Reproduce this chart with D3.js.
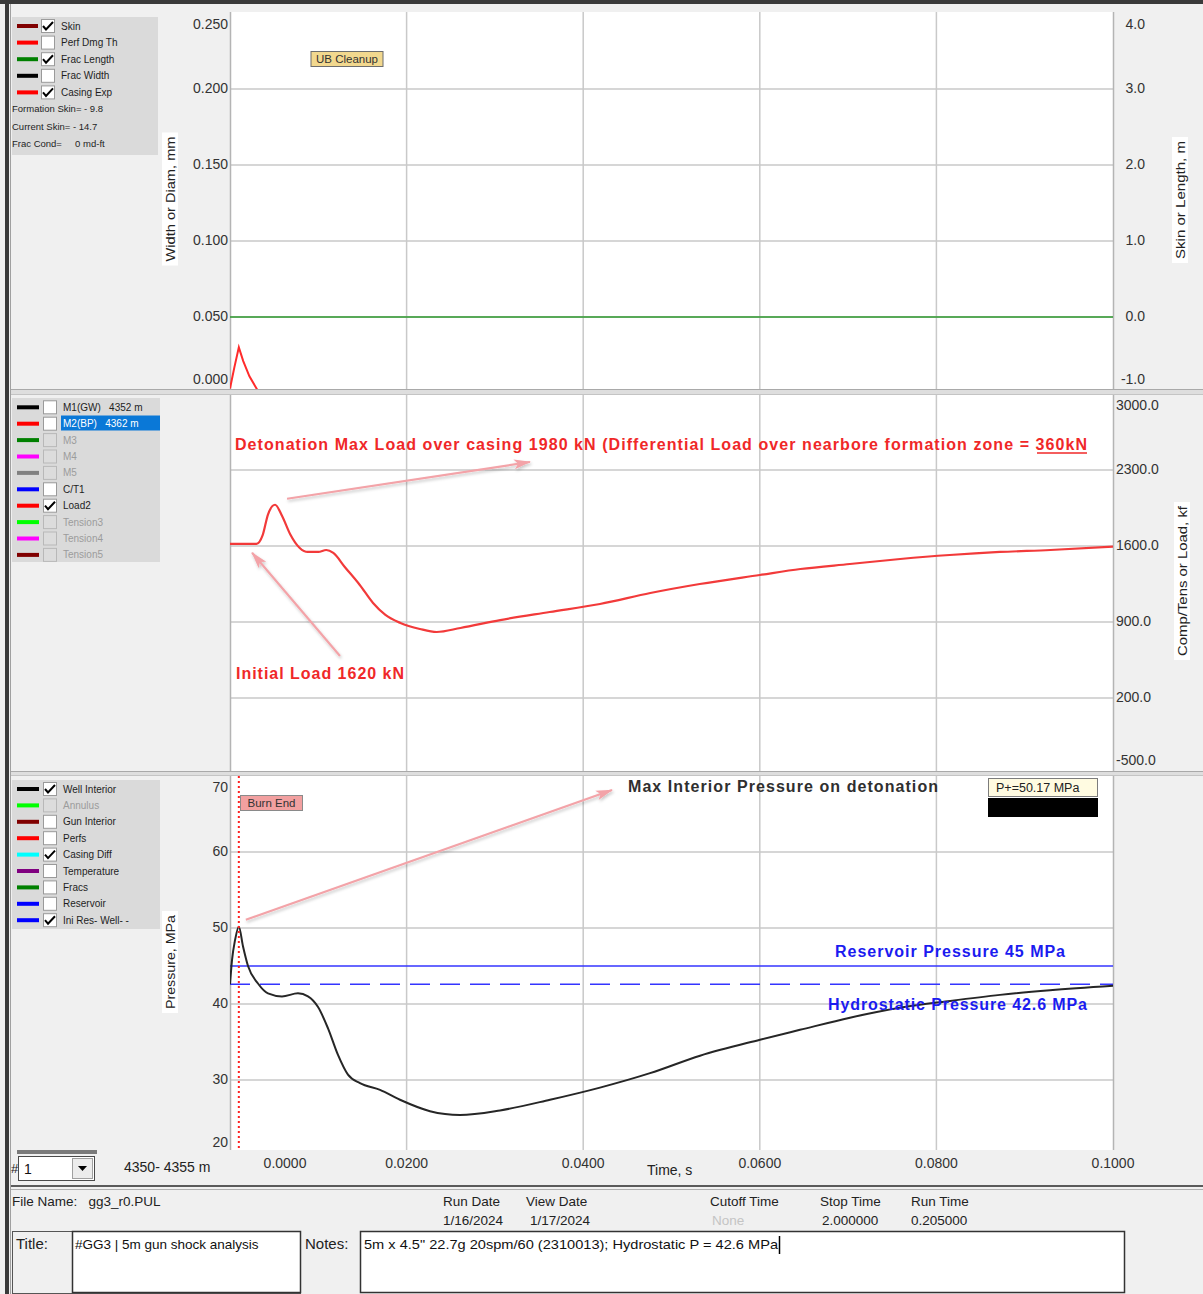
<!DOCTYPE html>
<html>
<head>
<meta charset="utf-8">
<script src="https://cdn.jsdelivr.net/npm/d3@7"></script>
<style>
  body { margin: 0; background: #f0f0f0; }
  svg { display: block; font-family: "Liberation Sans", Arial, sans-serif; }
</style>
</head>
<body>
<svg id="chart" width="1203" height="1294"></svg>
<script>
// ---- axis ticks ----
const timeTicks = [0, 0.02, 0.04, 0.06, 0.08, 0.1];
const widthTicks = [0, 0.05, 0.1, 0.15, 0.2, 0.25];
const skinTicks = [-1, 0, 1, 2, 3, 4];
const loadTicks = [-500, 200, 900, 1600, 2300, 3000];
const pressureTicks = [20, 30, 40, 50, 60, 70];

// ---- panel 1: casing expansion (mm) and frac length (m) ----
const casingExpTime = [0, 0.0005, 0.001, 0.0015, 0.0022, 0.0031];
const casingExpMm = [0.003, 0.017, 0.030, 0.021, 0.011, 0.002];
const fracLengthM = 0.0;

// ---- panel 2: Load2 (kN) ----
const initialLoad = 1620;
const maxLoad = 1980;
const loadTime = [0, 0.0030, 0.0037, 0.0043, 0.0051, 0.0059, 0.0068, 0.0079, 0.0088, 0.0100,
  0.0109, 0.0117, 0.0130, 0.0147, 0.0162, 0.0176, 0.0193, 0.0215, 0.0234, 0.0261, 0.0306,
  0.0362, 0.0419, 0.0476, 0.0532, 0.0600, 0.0646, 0.0702, 0.0759, 0.0815, 0.0872, 0.0929, 0.1000];
const loadKN = [initialLoad, 1620, 1700, 1890, maxLoad, 1876, 1711, 1582, 1545, 1545,
  1563, 1536, 1407, 1241, 1075, 965, 891, 836, 808, 845, 918,
  992, 1066, 1167, 1250, 1333, 1388, 1434, 1480, 1517, 1545, 1563, 1595];

// ---- panel 3: well interior pressure (MPa) ----
const reservoirP = 45;
const hydrostaticP = 42.6;
const maxPressure = 50.17;
const burnEndTime = 0.001;
const pressTime = [0, 0.00023, 0.00057, 0.0010, 0.00147, 0.00204, 0.00317, 0.0043, 0.00589,
  0.0077, 0.00883, 0.00997, 0.0111, 0.01223, 0.01336, 0.01472, 0.01699, 0.01925, 0.02265,
  0.02605, 0.03058, 0.03624, 0.0419, 0.04757, 0.05323, 0.06002, 0.06455, 0.07021, 0.07588,
  0.08154, 0.0872, 0.09287, 0.1000];
const pressMPa = [hydrostaticP, 45.8, 48.4, maxPressure, 47.6, 45.0, 42.7, 41.4, 41.0,
  41.4, 41.0, 39.6, 36.8, 33.3, 30.7, 29.6, 28.7, 27.4, 25.9,
  25.4, 26.0, 27.4, 29.0, 30.9, 33.2, 35.3, 36.6, 38.2, 39.5,
  40.4, 41.2, 41.8, 42.4];

// ---- legends ----
const legend1Names = ["Skin", "Perf Dmg Th", "Frac Length", "Frac Width", "Casing Exp"];
const legend1Colors = ["#800000", "#ff0000", "#008000", "#000000", "#ff0000"];
const legend1Checked = [true, false, true, false, true];
const legend1Enabled = [true, true, true, true, true];
const legend1Info = ["Formation Skin= - 9.8", "Current Skin= - 14.7", "Frac Cond=     0 md-ft"];

const legend2Names = ["M1(GW)   4352 m", "M2(BP)   4362 m", "M3", "M4", "M5", "C/T1", "Load2", "Tension3", "Tension4", "Tension5"];
const legend2Colors = ["#000000", "#ff0000", "#008000", "#ff00ff", "#808080", "#0000ff", "#ff0000", "#00ff00", "#ff00ff", "#800000"];
const legend2Checked = [false, false, false, false, false, false, true, false, false, false];
const legend2Enabled = [true, true, false, false, false, true, true, false, false, false];

const legend3Names = ["Well Interior", "Annulus", "Gun Interior", "Perfs", "Casing Diff", "Temperature", "Fracs", "Reservoir", "Ini Res- Well- -"];
const legend3Colors = ["#000000", "#00ff00", "#800000", "#ff0000", "#00ffff", "#800080", "#008000", "#0000ff", "#0000ff"];
const legend3Checked = [true, false, false, false, true, false, false, false, true];
const legend3Enabled = [true, false, true, true, true, true, true, true, true];

// ---- layout ----
const svg = d3.select("#chart");
const X0 = 230, X1 = 1113;
const PH = 380;
const x = d3.scaleLinear().domain([0, 0.1]).range([X0, X1]);
const yWidth = d3.scaleLinear().domain([0, 0.25]).range([13 + PH, 13]);
const ySkin = d3.scaleLinear().domain([-1, 4]).range([13 + PH, 13]);
const yLoad = d3.scaleLinear().domain([-500, 3000]).range([394 + PH, 394]);
const yPress = d3.scaleLinear().domain([20, 70]).range([776 + PH, 776]);
const vis = [[12, 389], [395, 771], [776, 1150]];

// plain hyphen for negative tick values
const fmt = spec => { const f = d3.format(spec); return v => f(v).replace("\u2212", "-"); };

const defs = svg.append("defs");
vis.forEach((v, i) => {
  defs.append("clipPath").attr("id", "clip" + i)
    .append("rect").attr("x", X0).attr("y", v[0]).attr("width", X1 - X0).attr("height", v[1] - v[0]);
});
defs.append("marker").attr("id", "arrowHead")
  .attr("markerUnits", "userSpaceOnUse").attr("markerWidth", 18).attr("markerHeight", 12)
  .attr("refX", 16).attr("refY", 6).attr("orient", "auto")
  .append("path").attr("d", "M0,1 L17,6 L0,11 L4,6 Z").attr("fill", "#f3a3a8");
const shadow = defs.append("filter").attr("id", "shadow").attr("x", "-20%").attr("y", "-20%").attr("width", "140%").attr("height", "140%");
shadow.append("feDropShadow").attr("dx", 1).attr("dy", 2).attr("stdDeviation", 1.5)
  .attr("flood-color", "#000").attr("flood-opacity", 0.22);

// background and frame
svg.append("rect").attr("width", 1203).attr("height", 1294).attr("fill", "#f0f0f0");
svg.append("rect").attr("x", 0).attr("y", 0).attr("width", 1203).attr("height", 4).attr("fill", "#3a3a3a");
svg.append("rect").attr("x", 5).attr("y", 0).attr("width", 4).attr("height", 1294).attr("fill", "#3a3a3a");
svg.append("line").attr("x1", 10.5).attr("x2", 10.5).attr("y1", 4).attr("y2", 1294).attr("stroke", "#a0a0a0");

// plot backgrounds
vis.forEach(v => {
  svg.append("rect").attr("x", X0).attr("y", v[0]).attr("width", X1 - X0).attr("height", v[1] - v[0]).attr("fill", "#ffffff");
});
// separators between panels
[[389, 395], [771, 776]].forEach(s => {
  svg.append("rect").attr("x", 11).attr("y", s[0]).attr("width", 1192).attr("height", s[1] - s[0]).attr("fill", "#dedede");
  svg.append("line").attr("x1", 11).attr("x2", 1203).attr("y1", s[0] + 0.5).attr("y2", s[0] + 0.5).attr("stroke", "#a9a9a9");
  svg.append("line").attr("x1", 11).attr("x2", 1203).attr("y1", s[1] - 0.5).attr("y2", s[1] - 0.5).attr("stroke", "#c4c4c4");
});

// gridlines
const gridColor = "#c9c9c9";
function hGrid(scale, ticks) {
  svg.append("g").selectAll("line").data(ticks.slice(1, -1)).join("line")
    .attr("x1", X0).attr("x2", X1).attr("y1", d => scale(d)).attr("y2", d => scale(d))
    .attr("stroke", gridColor).attr("stroke-width", 1.5);
}
hGrid(yWidth, widthTicks);
hGrid(yLoad, loadTicks);
hGrid(yPress, pressureTicks);
vis.forEach(v => {
  svg.append("g").selectAll("line").data(timeTicks.slice(1, -1)).join("line")
    .attr("x1", d => x(d)).attr("x2", d => x(d)).attr("y1", v[0]).attr("y2", v[1])
    .attr("stroke", gridColor).attr("stroke-width", 1.5);
});
// plot borders
[X0, X1].forEach(px => {
  vis.forEach(v => {
    svg.append("line").attr("x1", px + 0.5).attr("x2", px + 0.5).attr("y1", v[0]).attr("y2", v[1])
      .attr("stroke", "#b4b4b4").attr("stroke-width", 1.5);
  });
});

// ---- panel 1 data ----
const p1 = svg.append("g").attr("clip-path", "url(#clip0)");
p1.append("line").attr("x1", X0).attr("x2", X1).attr("y1", ySkin(fracLengthM)).attr("y2", ySkin(fracLengthM))
  .attr("stroke", "#2e9a2e").attr("stroke-width", 1.5);
p1.append("path").datum(casingExpTime.map((t, i) => [t, casingExpMm[i]]))
  .attr("d", d3.line().x(d => x(d[0])).y(d => yWidth(d[1])))
  .attr("fill", "none").attr("stroke", "#ff2b2b").attr("stroke-width", 2);
// UB Cleanup marker label
svg.append("rect").attr("x", 311).attr("y", 51.5).attr("width", 72).attr("height", 15)
  .attr("fill", "#f2d88e").attr("stroke", "#6d6d6d");
svg.append("text").attr("x", 347).attr("y", 63).attr("text-anchor", "middle")
  .attr("font-size", 11.5).attr("fill", "#333").text("UB Cleanup");

// ---- panel 2 data ----
const p2 = svg.append("g").attr("clip-path", "url(#clip1)");
p2.append("path").datum(loadTime.map((t, i) => [t, loadKN[i]]))
  .attr("d", d3.line().x(d => x(d[0])).y(d => yLoad(d[1])).curve(d3.curveMonotoneX))
  .attr("fill", "none").attr("stroke", "#f23a3a").attr("stroke-width", 2.2);

// ---- panel 3 data ----
const p3 = svg.append("g").attr("clip-path", "url(#clip2)");
p3.append("line").attr("x1", X0).attr("x2", X1).attr("y1", yPress(reservoirP)).attr("y2", yPress(reservoirP))
  .attr("stroke", "#3434ff").attr("stroke-width", 1.6);
p3.append("line").attr("x1", X0).attr("x2", X1).attr("y1", yPress(hydrostaticP)).attr("y2", yPress(hydrostaticP))
  .attr("stroke", "#3434ff").attr("stroke-width", 1.6).attr("stroke-dasharray", "20,10");
p3.append("path").datum(pressTime.map((t, i) => [t, pressMPa[i]]))
  .attr("d", d3.line().x(d => x(d[0])).y(d => yPress(d[1])).curve(d3.curveMonotoneX))
  .attr("fill", "none").attr("stroke", "#262626").attr("stroke-width", 2);
p3.append("line").attr("x1", x(burnEndTime)).attr("x2", x(burnEndTime)).attr("y1", 776).attr("y2", 1150)
  .attr("stroke", "#ff2020").attr("stroke-width", 2).attr("stroke-dasharray", "2,3");
svg.append("rect").attr("x", 240.5).attr("y", 795.5).attr("width", 62).attr("height", 15)
  .attr("fill", "#f2a0a0").attr("stroke", "#8a8a8a");
svg.append("text").attr("x", 271.5).attr("y", 807).attr("text-anchor", "middle")
  .attr("font-size", 11.5).attr("fill", "#333").text("Burn End");

// ---- annotations ----
function arrow(x1, y1, x2, y2) {
  svg.append("line").attr("x1", x1).attr("y1", y1).attr("x2", x2).attr("y2", y2)
    .attr("stroke", "#f3a3a8").attr("stroke-width", 2.2).attr("marker-end", "url(#arrowHead)")
    .attr("filter", "url(#shadow)");
}
function note(txt, tx, ty, len, color, size) {
  svg.append("text").attr("x", tx).attr("y", ty).attr("font-size", size || 16).attr("font-weight", "bold")
    .attr("fill", color).attr("textLength", len).attr("lengthAdjust", "spacing").text(txt);
}
note("Detonation Max Load over casing " + maxLoad + " kN (Differential Load over nearbore formation zone = 360kN",
  235, 450, 852, "#f02828");
svg.append("line").attr("x1", 1037).attr("x2", 1087).attr("y1", 453).attr("y2", 453)
  .attr("stroke", "#f02828").attr("stroke-width", 1.4);
arrow(x(0.0051) + 12, yLoad(maxLoad) - 6, 530, 462);
note("Initial Load " + initialLoad + " kN", 236, 679, 168, "#f02828");
arrow(340, 656, x(0.0025), yLoad(initialLoad) + 9);

note("Max Interior Pressure on detonation", 628, 792, 310, "#2f2f2f");
arrow(x(burnEndTime) + 7, yPress(maxPressure) - 7, 612, 790);
arrow(946, 786, 987, 786);
svg.append("rect").attr("x", 988.5).attr("y", 778.5).attr("width", 109).attr("height", 18)
  .attr("fill", "#fffbe1").attr("stroke", "#7c7c7c");
svg.append("text").attr("x", 996).attr("y", 792).attr("font-size", 12.5).attr("fill", "#222")
  .text("P+=" + maxPressure.toFixed(2) + " MPa");
svg.append("rect").attr("x", 988).attr("y", 798).attr("width", 110).attr("height", 19).attr("fill", "#000");

note("Reservoir Pressure " + reservoirP + " MPa", 835, 957, 230, "#1b1bf0");
note("Hydrostatic Pressure " + hydrostaticP + " MPa", 828, 1010, 259, "#1b1bf0");

// ---- axes ----
const tickFont = 14, tickColor = "#333";
function styleAxis(g, scale, ticks, top, bottom) {
  g.select(".domain").remove();
  g.selectAll(".tick").attr("transform", (d, i) => {
    let yy = scale(d);
    if (i === ticks.length - 1) yy = top + 12;
    if (i === 0) yy = bottom - 13;
    return `translate(0,${yy})`;
  });
  g.selectAll("text").attr("font-size", tickFont).attr("fill", tickColor)
    .attr("font-family", "'Liberation Sans', Arial, sans-serif");
}
const axW = svg.append("g").attr("transform", "translate(229,0)")
  .call(d3.axisLeft(yWidth).tickValues(widthTicks).tickSize(0).tickPadding(1).tickFormat(fmt(".3f")));
styleAxis(axW, yWidth, widthTicks, 13, 393);
const axS = svg.append("g").attr("transform", "translate(1116,0)")
  .call(d3.axisRight(ySkin).tickValues(skinTicks).tickSize(0).tickPadding(0).tickFormat(fmt(".1f")));
styleAxis(axS, ySkin, skinTicks, 13, 393);
axS.selectAll("text").attr("text-anchor", "end").attr("x", 29);
const axL = svg.append("g").attr("transform", "translate(1116,0)")
  .call(d3.axisRight(yLoad).tickValues(loadTicks).tickSize(0).tickPadding(0).tickFormat(fmt(".1f")));
styleAxis(axL, yLoad, loadTicks, 394, 774);
const axP = svg.append("g").attr("transform", "translate(229,0)")
  .call(d3.axisLeft(yPress).tickValues(pressureTicks).tickSize(0).tickPadding(1).tickFormat(fmt("d")));
styleAxis(axP, yPress, pressureTicks, 776, 1156);

const axT = svg.append("g").attr("transform", "translate(0,1156)")
  .call(d3.axisBottom(x).tickValues(timeTicks).tickSize(0).tickPadding(2).tickFormat(fmt(".4f")));
axT.select(".domain").remove();
axT.selectAll(".tick").attr("transform", (d, i) => `translate(${x(d) + (i === 0 ? 55 : 0)},0)`);
axT.selectAll("text").attr("font-size", tickFont).attr("fill", tickColor)
  .attr("font-family", "'Liberation Sans', Arial, sans-serif");

// rotated axis titles
function vTitle(txt, cx, cy, w) {
  svg.append("rect").attr("x", cx - 8).attr("y", cy - w / 2 - 4).attr("width", 16).attr("height", w + 8).attr("fill", "#fff");
  svg.append("text").attr("transform", `translate(${cx + 5},${cy}) rotate(-90)`).attr("text-anchor", "middle")
    .attr("font-size", 13.5).attr("fill", "#222").attr("textLength", w).attr("lengthAdjust", "spacingAndGlyphs").text(txt);
}
vTitle("Width or Diam, mm", 170, 199, 125);
vTitle("Skin or Length, m", 1180, 200, 118);
vTitle("Comp/Tens or Load, kf", 1182, 581, 150);
vTitle("Pressure, MPa", 170, 962, 94);

// ---- legends ----
function checkMark(g, cx, cy) {
  g.append("path").attr("d", `M${cx - 5},${cy} L${cx - 2},${cy + 3.5} L${cx + 5},${cy - 4}`)
    .attr("fill", "none").attr("stroke", "#000").attr("stroke-width", 2);
}
function drawLegend(bx, by, bw, bh, rowY0, step, names, colors, checked, enabled, sw, cbx, tx) {
  const g = svg.append("g");
  g.append("rect").attr("x", bx).attr("y", by).attr("width", bw).attr("height", bh).attr("fill", "#dadada");
  names.forEach((n, i) => {
    const cy = rowY0 + i * step;
    g.append("rect").attr("x", sw[0]).attr("y", cy - 2).attr("width", sw[1] - sw[0]).attr("height", 4).attr("fill", colors[i]);
    g.append("rect").attr("x", cbx + 0.5).attr("y", cy - 6.5).attr("width", 13).attr("height", 13)
      .attr("fill", enabled[i] ? "#ffffff" : "#dcdcdc").attr("stroke", enabled[i] ? "#9a9a9a" : "#b8b8b8");
    if (checked[i]) checkMark(g, cbx + 7, cy);
    g.append("text").attr("x", tx).attr("y", cy + 3.5).attr("font-size", 10)
      .attr("fill", enabled[i] ? "#1e1e1e" : "#9c9c9c").attr("xml:space", "preserve").text(n);
  });
  return g;
}
const lg1 = drawLegend(12, 17, 146, 138, 26, 16.6, legend1Names, legend1Colors, legend1Checked, legend1Enabled, [17, 38], 41, 61);
legend1Info.forEach((t, i) => {
  lg1.append("text").attr("x", 12).attr("y", 112 + i * 17.6).attr("font-size", 9.5).attr("fill", "#1e1e1e")
    .attr("xml:space", "preserve").text(t);
});
const lg2 = drawLegend(12, 398, 148, 164, 407.3, 16.4, legend2Names, legend2Colors, legend2Checked, legend2Enabled, [17, 39], 43, 63);
// selected row highlight
lg2.append("rect").attr("x", 61).attr("y", 415.5).attr("width", 99).attr("height", 15).attr("fill", "#0a78d7");
lg2.append("text").attr("x", 63).attr("y", 427.2).attr("font-size", 10).attr("fill", "#fff")
  .attr("xml:space", "preserve").text(legend2Names[1]);
drawLegend(12, 780, 148, 149, 789, 16.4, legend3Names, legend3Colors, legend3Checked, legend3Enabled, [17, 39], 43, 63);

// ---- bottom strip ----
svg.append("rect").attr("x", 17).attr("y", 1150).attr("width", 80).attr("height", 4).attr("fill", "#7a7a7a");
svg.append("text").attr("x", 11).attr("y", 1173).attr("font-size", 13).attr("fill", "#222").text("#");
svg.append("rect").attr("x", 18.5).attr("y", 1156.5).attr("width", 76).attr("height", 24).attr("fill", "#fff").attr("stroke", "#4a4a4a");
svg.append("rect").attr("x", 72.5).attr("y", 1158.5).attr("width", 20).attr("height", 20).attr("fill", "#ececec").attr("stroke", "#a0a0a0");
svg.append("path").attr("d", "M78,1166 L87,1166 L82.5,1171 Z").attr("fill", "#000");
svg.append("text").attr("x", 24).attr("y", 1174).attr("font-size", 14).attr("fill", "#111").text("1");
svg.append("text").attr("x", 124).attr("y", 1172).attr("font-size", 14).attr("fill", "#222").text("4350- 4355 m");
svg.append("text").attr("x", 647).attr("y", 1175).attr("font-size", 14).attr("fill", "#222").text("Time, s");

// ---- run info ----
svg.append("line").attr("x1", 11).attr("x2", 1203).attr("y1", 1186).attr("y2", 1186).attr("stroke", "#5a5a5a").attr("stroke-width", 2);
svg.append("line").attr("x1", 11).attr("x2", 1203).attr("y1", 1189.5).attr("y2", 1189.5).attr("stroke", "#b0b0b0");
const info = svg.append("g").attr("font-size", 13.5).attr("fill", "#222");
info.append("text").attr("x", 12).attr("y", 1206).attr("xml:space", "preserve").text("File Name:   gg3_r0.PUL");
const runCols = [["Run Date", "1/16/2024", 443, 443], ["View Date", "1/17/2024", 526, 530],
  ["Cutoff Time", "None", 710, 712], ["Stop Time", "2.000000", 820, 822], ["Run Time", "0.205000", 911, 911]];
runCols.forEach(c => {
  info.append("text").attr("x", c[2]).attr("y", 1206).text(c[0]);
  info.append("text").attr("x", c[3]).attr("y", 1225).attr("fill", c[1] === "None" ? "#c4c4c4" : "#222").text(c[1]);
});
svg.append("rect").attr("x", 12.5).attr("y", 1231.5).attr("width", 288).attr("height", 62).attr("fill", "none").attr("stroke", "#555");
svg.append("rect").attr("x", 72.5).attr("y", 1231.5).attr("width", 228).attr("height", 61).attr("fill", "#fff").attr("stroke", "#333").attr("stroke-width", 1.5);
svg.append("text").attr("x", 16).attr("y", 1249).attr("font-size", 15).attr("fill", "#222").text("Title:");
svg.append("text").attr("x", 75).attr("y", 1249).attr("font-size", 13.5).attr("fill", "#111").text("#GG3 | 5m gun shock analysis");
svg.append("text").attr("x", 305).attr("y", 1249).attr("font-size", 15).attr("fill", "#222").text("Notes:");
svg.append("rect").attr("x", 360.5).attr("y", 1231.5).attr("width", 764).attr("height", 61).attr("fill", "#fff").attr("stroke", "#333").attr("stroke-width", 1.5);
svg.append("text").attr("x", 364).attr("y", 1249).attr("font-size", 13.5).attr("fill", "#111")
  .attr("textLength", 414).attr("lengthAdjust", "spacingAndGlyphs")
  .text("5m x 4.5\" 22.7g 20spm/60 (2310013); Hydrostatic P = " + hydrostaticP + " MPa");
svg.append("line").attr("x1", 779.5).attr("x2", 779.5).attr("y1", 1236).attr("y2", 1254).attr("stroke", "#000").attr("stroke-width", 1.5);
</script>
</body>
</html>
